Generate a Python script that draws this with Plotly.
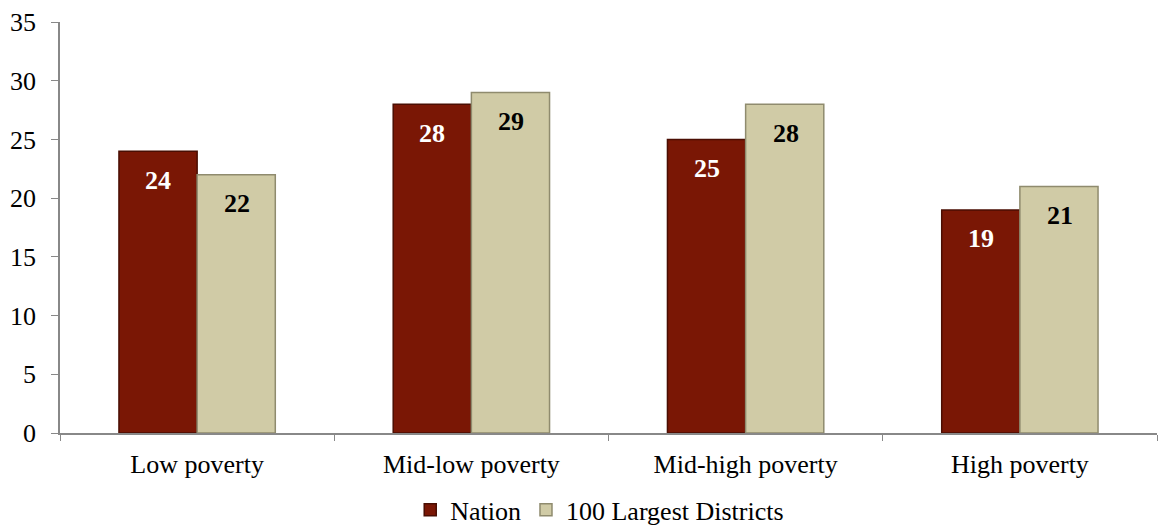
import plotly.graph_objects as go

categories = ["Low poverty", "Mid-low poverty", "Mid-high poverty", "High poverty"]
nation = [24, 28, 25, 19]
districts = [22, 29, 28, 21]
series_names = ["Nation", "100 Largest Districts"]

FONT = "Times New Roman, Liberation Serif, serif"
fig = go.Figure()
fig.add_trace(go.Bar(x=categories, y=nation, name=series_names[0],
                     marker=dict(color="#7A1705", line=dict(color="#4A0E03", width=1.5))))
fig.add_trace(go.Bar(x=categories, y=districts, name=series_names[1],
                     marker=dict(color="#D0CBA6", line=dict(color="#8F8B6E", width=1.5))))

for c, v in zip(categories, nation):
    fig.add_annotation(x=c, y=v, xshift=-39, yshift=-29, text=f"<b>{v}</b>", showarrow=False,
                       font=dict(family=FONT, size=26, color="white"))
for c, v in zip(categories, districts):
    fig.add_annotation(x=c, y=v, xshift=40, yshift=-29, text=f"<b>{v}</b>", showarrow=False,
                       font=dict(family=FONT, size=26, color="black"))

fig.update_layout(
    width=1158, height=531,
    margin=dict(l=60, r=1, t=22, b=98, autoexpand=False),
    paper_bgcolor="white", plot_bgcolor="white",
    barmode="group", bargap=0.43, bargroupgap=0.0,
    font=dict(family=FONT, size=26, color="black"),
    showlegend=True,
    legend=dict(orientation="h", x=0.492, xanchor="center", yref="container", y=0.04, yanchor="middle",
                font=dict(family=FONT, size=26), itemwidth=30, traceorder="normal",
                bgcolor="rgba(0,0,0,0)"),
)
fig.update_xaxes(showline=True, linecolor="#888888", linewidth=1.5, ticks="outside",
                 tickson="boundaries", ticklen=6, tickcolor="#888888", showgrid=False,
                 ticklabelstandoff=7,
                 tickfont=dict(family=FONT, size=26))
fig.update_yaxes(range=[0, 35], dtick=5, showline=True, linecolor="#888888", linewidth=1.5,
                 ticks="outside", ticklen=7, tickcolor="#888888", showgrid=False, zeroline=False,
                 ticklabelstandoff=10,
                 tickfont=dict(family=FONT, size=26))

fig.write_html("out.html")
